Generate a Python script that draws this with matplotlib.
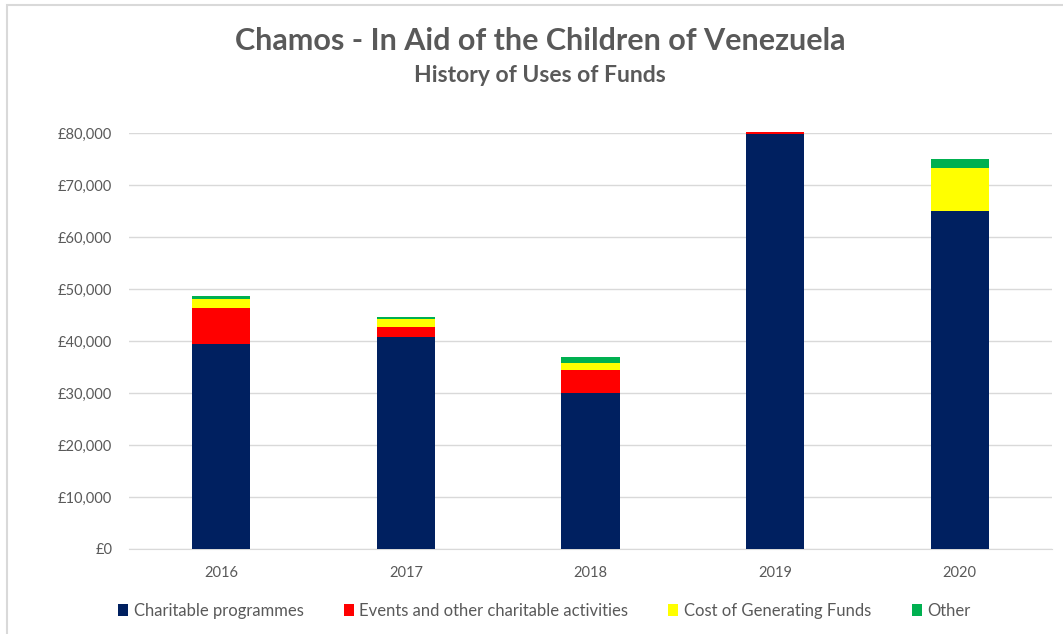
import numpy as np
import matplotlib.pyplot as plt
from matplotlib.patches import Rectangle
from matplotlib.ticker import FuncFormatter

years = ['2016', '2017', '2018', '2019', '2020']
charitable = [39400, 40800, 30000, 79800, 65000]
events = [6900, 1950, 4500, 400, 0]
cost_funds = [1800, 1500, 1350, 0, 8300]
other = [600, 450, 1100, 0, 1700]

series = [
    ('Charitable programmes', charitable, '#002060'),
    ('Events and other charitable activities', events, '#ff0000'),
    ('Cost of Generating Funds', cost_funds, '#ffff00'),
    ('Other', other, '#00b050'),
]

plt.rcParams['font.family'] = ['Lato', 'DejaVu Sans']
grey = '#595959'

fig = plt.figure(figsize=(10.63, 6.34), dpi=100)
fig.patch.set_facecolor('white')
# chart-area border (Excel style), clipped on right/bottom
fig.add_artist(Rectangle((7 / 1063, -0.1), 1.2, 1 - 5 / 634 + 0.1,
                         transform=fig.transFigure, fill=False,
                         ec='#d9d9d9', lw=1.5))

ax = fig.add_axes([129 / 1063, 1 - 549 / 634, 923 / 1063, 416 / 634])
x = np.arange(len(years))
bottom = np.zeros(len(years))
handles = []
for name, vals, col in series:
    vals = np.array(vals, dtype=float)
    b = ax.bar(x, vals, 0.315, bottom=bottom, color=col, label=name,
               zorder=3, clip_on=False)
    handles.append(b)
    bottom += vals

ax.set_xlim(-0.5, 4.5)
ax.set_ylim(0, 80000)
ax.set_yticks(np.arange(0, 80001, 10000))
ax.yaxis.set_major_formatter(FuncFormatter(lambda v, p: '£{:,.0f}'.format(v)))
ax.set_xticks(x)
ax.set_xticklabels(years)
ax.grid(axis='y', color='#d9d9d9', lw=1, zorder=0)
for s in ['top', 'right', 'left']:
    ax.spines[s].set_visible(False)
ax.spines['bottom'].set_color('#d9d9d9')
ax.tick_params(axis='both', length=0, colors=grey, labelsize=10.5)
ax.tick_params(axis='y', pad=12)
ax.tick_params(axis='x', pad=12)

fig.text(0.508, 1 - 41 / 634, 'Chamos - In Aid of the Children of Venezuela',
         ha='center', va='center', fontsize=22, fontweight='bold', color=grey)
fig.text(0.508, 1 - 75 / 634, 'History of Uses of Funds',
         ha='center', va='center', fontsize=16.5, fontweight='bold', color=grey)

leg = fig.legend(handles=handles, loc='center', ncol=4,
                 bbox_to_anchor=(0.512, 1 - 611 / 634), frameon=False,
                 fontsize=12, handlelength=0.6, handleheight=0.7,
                 handletextpad=0.35, columnspacing=2.4)
for t in leg.get_texts():
    t.set_color(grey)

fig.savefig('out.png', dpi=100, facecolor='white')
